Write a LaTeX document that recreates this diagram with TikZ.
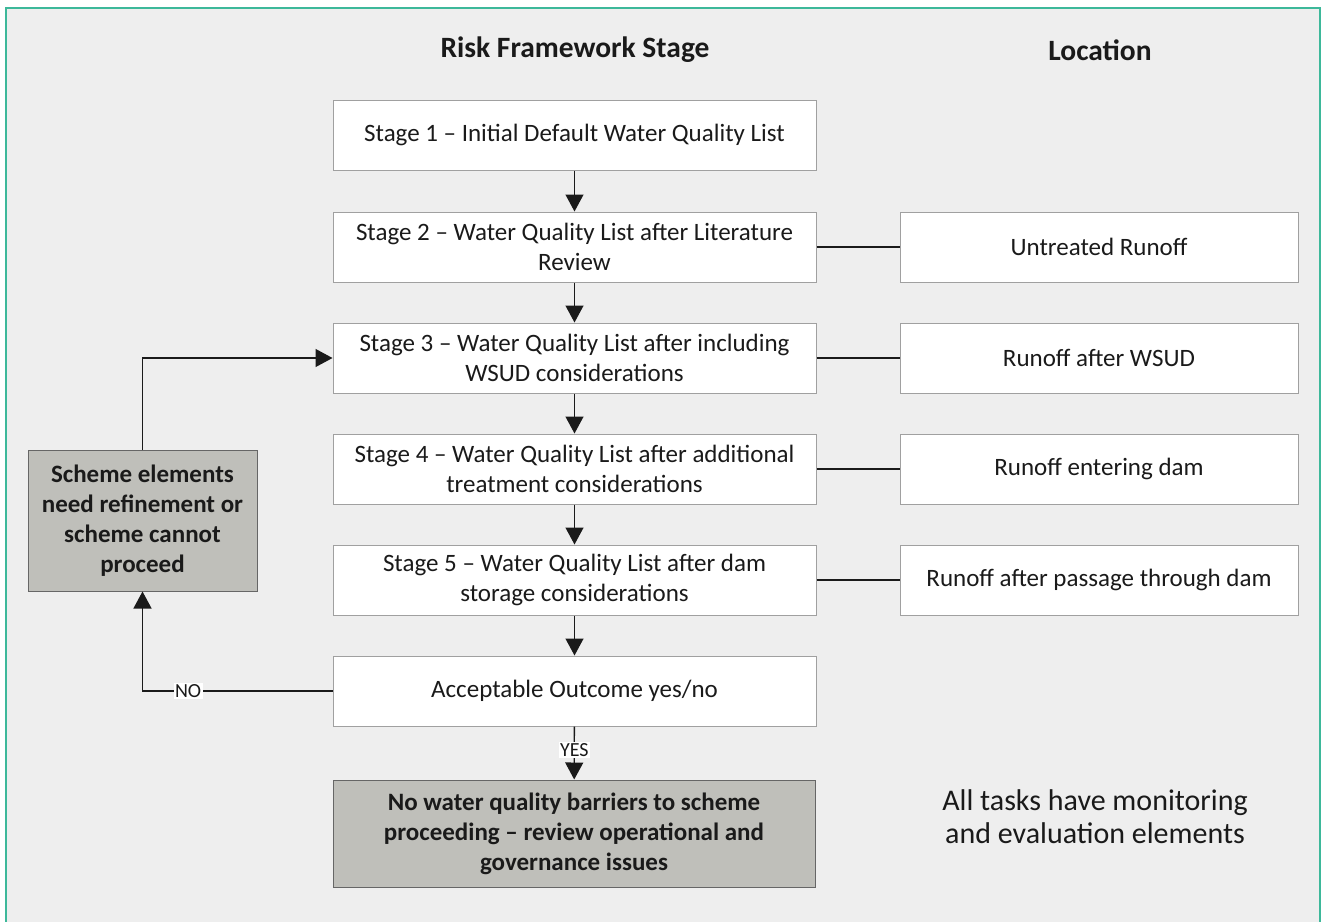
\documentclass[tikz,border=0pt]{standalone}
\usepackage{fontspec}
\setmainfont{Carlito}
\usetikzlibrary{arrows.meta}

\definecolor{framebg}{HTML}{EEEEEE}
\definecolor{frameline}{HTML}{3DB89A}
\definecolor{boxline}{HTML}{A0A0A0}
\definecolor{shade}{HTML}{BFBFBA}
\definecolor{ink}{HTML}{1A1A1A}

\tikzset{
    stagebox/.style={draw=boxline, fill=white, line width=1pt, align=center, inner sep=0pt,
        minimum width=483pt, minimum height=70pt, text=ink, font=\fontsize{25}{30}\selectfont},
    placebox/.style={stagebox, minimum width=398pt},
    decisionbox/.style={stagebox, draw=gray!80!black, fill=shade,
        font=\fontsize{25}{30}\selectfont\bfseries},
    heading/.style={text=ink, font=\fontsize{29.5}{34}\selectfont\bfseries},
    flow/.style={-{Triangle[length=17pt,width=18pt]}, line width=1.3pt, ink},
    link/.style={line width=1.3pt, ink},
    answer/.style={fill=white, inner sep=1.5pt, text=ink, font=\fontsize{20}{22}\selectfont}
}

\begin{document}
\begin{tikzpicture}[x=1pt, y=-1pt]
    \useasboundingbox (0,0) rectangle (1322,921);
    \draw[fill=framebg, draw=frameline, line width=2pt] (6,8) rectangle (1320,930);

    \node[heading] (hstage) at (575,50) {Risk Framework Stage};
    \node[heading] (hplace) at (1100,50) {Location};

    % framework stages
    \node[stagebox] (s1) at (574.5,135) {Stage 1 – Initial Default Water Quality List};
    \node[stagebox] (s2) at (574.5,247) {Stage 2 – Water Quality List after Literature\\Review};
    \node[stagebox] (s3) at (574.5,358) {Stage 3 – Water Quality List after including\\WSUD considerations};
    \node[stagebox] (s4) at (574.5,469) {Stage 4 – Water Quality List after additional\\treatment considerations};
    \node[stagebox] (s5) at (574.5,580) {Stage 5 – Water Quality List after dam\\storage considerations};
    \node[stagebox] (ok) at (574.5,691) {Acceptable Outcome yes/no};

    % locations
    \node[placebox] (l2) at (1099,247) {Untreated Runoff};
    \node[placebox] (l3) at (1099,358) {Runoff after WSUD};
    \node[placebox] (l4) at (1099,469) {Runoff entering dam};
    \node[placebox] (l5) at (1099,580) {Runoff after passage through dam};

    % outcomes
    \node[decisionbox, minimum width=229pt, minimum height=141pt] (redo) at (142.5,520.5)
        {Scheme elements\\need refinement or\\scheme cannot\\proceed};
    \node[decisionbox, minimum width=482pt, minimum height=107pt] (go) at (574,833.5)
        {No water quality barriers to scheme\\proceeding – review operational and\\governance issues};

    \node[text=ink, align=center, font=\fontsize{30}{33}\selectfont] (note) at (1095,817)
        {All tasks have monitoring\\and evaluation elements};

    \draw[flow] (s1) -- (s2);
    \draw[flow] (s2) -- (s3);
    \draw[flow] (s3) -- (s4);
    \draw[flow] (s4) -- (s5);
    \draw[flow] (s5) -- (ok);
    \draw[flow] (ok) -- node[answer, pos=0.45] {YES} (go);

    \draw[link] (s2) -- (l2);
    \draw[link] (s3) -- (l3);
    \draw[link] (s4) -- (l4);
    \draw[link] (s5) -- (l5);

    \draw[flow] (ok.west) -- node[answer, pos=0.76] {NO} (ok.west -| redo.south) -- (redo.south);
    \draw[flow] (redo.north) |- (s3.west);
\end{tikzpicture}
\end{document}
